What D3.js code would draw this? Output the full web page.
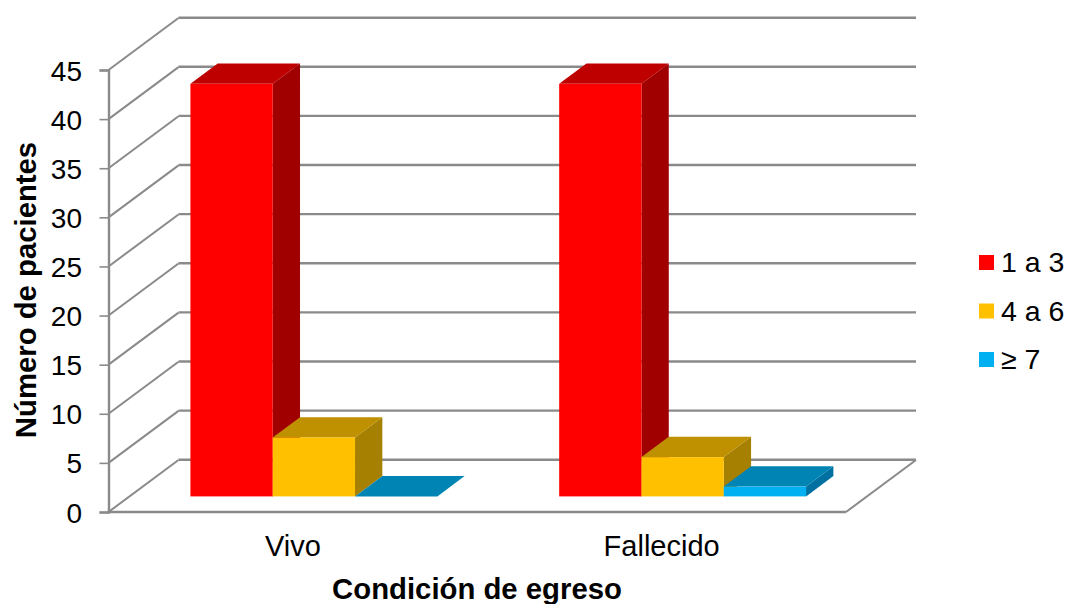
<!DOCTYPE html>
<html><head><meta charset="utf-8">
<script src="https://cdnjs.cloudflare.com/ajax/libs/d3/7.8.5/d3.min.js"></script>
<style>html,body{margin:0;padding:0;background:#fff}svg{display:block}text{font-family:"Liberation Sans",Arial,sans-serif;fill:#000}</style>
</head><body><svg id="c" width="1069" height="604"></svg>
<script>
const categories = ["Vivo", "Fallecido"];
const seriesNames = ["1 a 3", "4 a 6", "≥ 7"];
const series1a3 = [42, 42];
const series4a6 = [6, 4];
const series7 = [0, 1];
const yTicks = [0, 5, 10, 15, 20, 25, 30, 35, 40, 45];
const faceColors = ["#FF0000", "#FFC000", "#00B0F0"];
const topColors = ["#BF0000", "#BF9000", "#0084B4"];
const sideColors = ["#A00000", "#A68000", "#0070A0"];
const xTitle = "Condición de egreso";
const yTitle = "Número de pacientes";

const values = [series1a3, series4a6, series7];
const svg = d3.select("#c");
const gridColor = "#8a8a8a";
const x0 = 108.5, x1 = 846, wallDx = 70, wallDy = -52;
const y = d3.scaleLinear().domain([0, 45]).range([512, 70]);
const xBand = d3.scaleBand().domain(categories).range([x0, x1]);
const barWidth = 82.3;
const xSeries = d3.scaleBand().domain(d3.range(seriesNames.length)).range([0, barWidth * 3]);
const pX = (x, d) => x + d * wallDx;
const pY = (yy, d) => yy + d * wallDy;
const path = pts => "M" + pts.map(p => p.join(",")).join("L") + "Z";

const grid = svg.append("g").attr("fill", "none").attr("stroke", gridColor);
grid.selectAll(".back").data(yTicks).join("line")
  .attr("x1", pX(x0, 1)).attr("x2", pX(x1, 1))
  .attr("y1", d => pY(y(d), 1) - 0.3).attr("y2", d => pY(y(d), 1) - 0.3)
  .attr("stroke-width", 2.4);
grid.selectAll(".side").data(yTicks).join("line")
  .attr("x1", x0).attr("x2", pX(x0, 1))
  .attr("y1", d => y(d)).attr("y2", d => pY(y(d), 1))
  .attr("stroke-width", 2);
grid.append("line").attr("x1", x1).attr("y1", y(0)).attr("x2", pX(x1, 1)).attr("y2", pY(y(0), 1)).attr("stroke-width", 2);

const axisL = d3.axisLeft(y).tickValues(yTicks).tickSize(9).tickPadding(17.5);
const gy = svg.append("g").attr("transform", `translate(${x0},0)`).call(axisL);
gy.selectAll("path").attr("stroke", gridColor).attr("stroke-width", 2.4);
gy.selectAll("line").attr("stroke", gridColor).attr("stroke-width", 1.6);
gy.selectAll("text").attr("dy", "0.36em").style("font-size", "28px").style("font-family", '"Liberation Sans",Arial,sans-serif');
svg.append("line").attr("x1", x0 - 1).attr("x2", x1).attr("y1", y(0)).attr("y2", y(0)).attr("stroke", gridColor).attr("stroke-width", 2.6);

const dFront = 0.3, dBack = 0.69;
const bars = svg.append("g");
categories.forEach((cat, ci) => {
  const start = xBand(cat) + xBand.bandwidth() / 2 - barWidth * 1.5;
  seriesNames.forEach((s, si) => {
    const v = values[si][ci];
    const l = start + xSeries(si), r = l + xSeries.bandwidth();
    const yb = y(0), yt = y(v);
    const g = bars.append("g");
    if (v > 0) g.append("path").attr("d", path([[pX(r, dFront), pY(yb, dFront)], [pX(r, dBack), pY(yb, dBack)], [pX(r, dBack), pY(yt, dBack)], [pX(r, dFront), pY(yt, dFront)]])).attr("fill", sideColors[si]);
    g.append("path").attr("d", path([[pX(l, dFront), pY(yt, dFront)], [pX(l, dBack), pY(yt, dBack)], [pX(r, dBack), pY(yt, dBack)], [pX(r, dFront), pY(yt, dFront)]])).attr("fill", topColors[si]);
    if (v > 0) g.append("rect").attr("x", pX(l, dFront)).attr("y", pY(yt, dFront)).attr("width", r - l).attr("height", yb - yt).attr("fill", faceColors[si]);
  });
});

svg.selectAll(".cat").data(categories).join("text")
  .attr("x", d => xBand(d) + xBand.bandwidth() / 2).attr("y", 556)
  .attr("text-anchor", "middle").style("font-size", "29px").text(d => d);

svg.append("text").attr("x", 477).attr("y", 598.5).attr("text-anchor", "middle")
  .style("font-size", "29.3px").style("font-weight", "bold").text(xTitle);
svg.append("text").attr("transform", "translate(36,290) rotate(-90)").attr("text-anchor", "middle")
  .style("font-size", "29.3px").style("font-weight", "bold").text(yTitle);

const ly = d3.scalePoint().domain(seriesNames).range([262.5, 359.5]);
svg.selectAll(".lg").data(seriesNames).join("rect")
  .attr("x", 979).attr("y", d => ly(d) - 7.5).attr("width", 15).attr("height", 15)
  .attr("fill", (d, i) => faceColors[i]);
svg.selectAll(".lt").data(seriesNames).join("text")
  .attr("x", 1001).attr("y", d => ly(d) + 9.5).style("font-size", "28.5px").text(d => d);
</script></body></html>
